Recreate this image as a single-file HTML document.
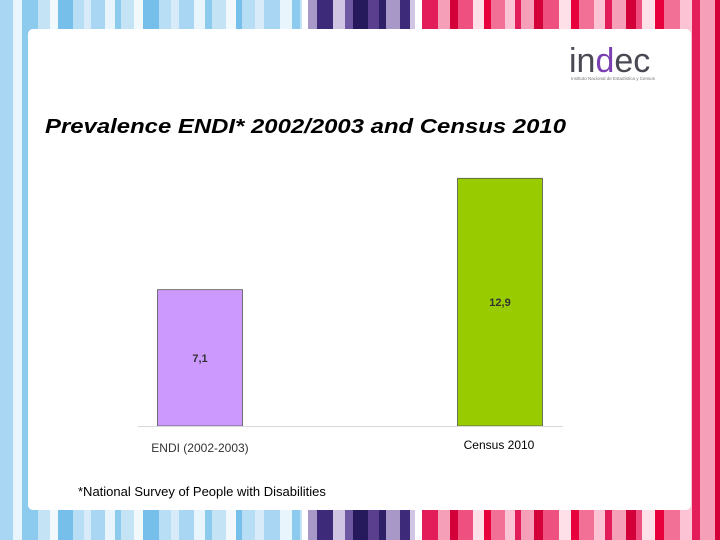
<!DOCTYPE html>
<html><head><meta charset="utf-8"><style>
body{margin:0;width:720px;height:540px;overflow:hidden;position:relative;background:#fff;font-family:"Liberation Sans",sans-serif}
#bg{position:absolute;left:0;top:0}
#card{position:absolute;left:28px;top:29px;width:663px;height:481px;background:#fff;border-radius:5px}
</style></head><body>
<svg id="bg" width="720" height="540"></svg>
<div id="card"></div>
<svg style="position:absolute;left:0;top:0" width="720" height="540">
 <g>
  <text x="569" y="72" font-size="34" fill="#4a4a55" font-family="Liberation Sans">in<tspan fill="#7a3fb0">d</tspan>ec</text>
  <text x="571" y="80" font-size="4.5" fill="#777">Instituto Nacional de Estadística y Censos</text>
 </g>
 <text x="45" y="133" font-size="20" font-style="italic" font-weight="bold" fill="#000" textLength="521" lengthAdjust="spacingAndGlyphs">Prevalence ENDI* 2002/2003 and Census 2010</text>
 <g id="bars"></g>
 <line x1="138" y1="426.5" x2="563" y2="426.5" stroke="#d9d9d9"/>
 <text x="200" y="452" font-size="12" text-anchor="middle" fill="#333">ENDI (2002-2003)</text>
 <text x="499" y="449" font-size="12" text-anchor="middle" fill="#000">Census 2010</text>
 <text x="78" y="496" font-size="13" fill="#000">*National Survey of People with Disabilities</text>
</svg>
<script>
const categories=["ENDI (2002-2003)","Census 2010"];
const values=[7.1,12.9];
const valueLabels=["7,1","12,9"];
const colors=["#cc99ff","#99cc00"];
const base=426, scale=19.2;
function y(v){return base-v*scale;}
function xc(i){return 200+i*300;}
const ns="http://www.w3.org/2000/svg";
const g=document.getElementById('bars');
values.forEach((v,i)=>{
 const r=document.createElementNS(ns,'rect');
 r.setAttribute('x',xc(i)-42.5);r.setAttribute('y',y(v));r.setAttribute('width',85);r.setAttribute('height',base-y(v));
 r.setAttribute('fill',colors[i]);r.setAttribute('stroke','#555');r.setAttribute('stroke-width','0.8');
 
 
 g.appendChild(r);
 const t=document.createElementNS(ns,'text');
 t.setAttribute('x',xc(i));t.setAttribute('y',(y(v)+base)/2+4);t.setAttribute('text-anchor','middle');
 t.setAttribute('font-size','11');t.setAttribute('font-weight','bold');t.setAttribute('fill','#333');
 t.textContent=valueLabels[i];
 
 
 g.appendChild(t);
});
const bg=document.getElementById('bg');
const blues=["#d7ecf8","#a9d6f2","#e8f5fc","#8ccaee","#c4e4f6","#f2f9fd","#76bfea","#b7def4"];
const purples=["#5a3f8f","#2e1f66","#a898c8","#3d2a78","#d0c6e4","#6e58a4","#26195c"];
const pinks=["#e8003d","#f27095","#fbc3d3","#e31d5a","#f5a0b8","#d4003a","#ee5080","#fde0e8"];
function stripes(x0,x1,pal,seed){
 let x=x0,k=seed;
 while(x<x1){const w=6+(k*7)%11;const s=document.createElementNS(ns,'rect');
  s.setAttribute('x',x);s.setAttribute('y',0);s.setAttribute('width',Math.min(w,x1-x));s.setAttribute('height',540);
  s.setAttribute('fill',pal[k%pal.length]);bg.appendChild(s);x+=w;k++;}
}
stripes(0,302,blues,1);stripes(302,308,["#fff"],0);stripes(308,415,purples,2);stripes(415,422,["#fff"],0);stripes(422,720,pinks,3);
</script>
</body></html>
